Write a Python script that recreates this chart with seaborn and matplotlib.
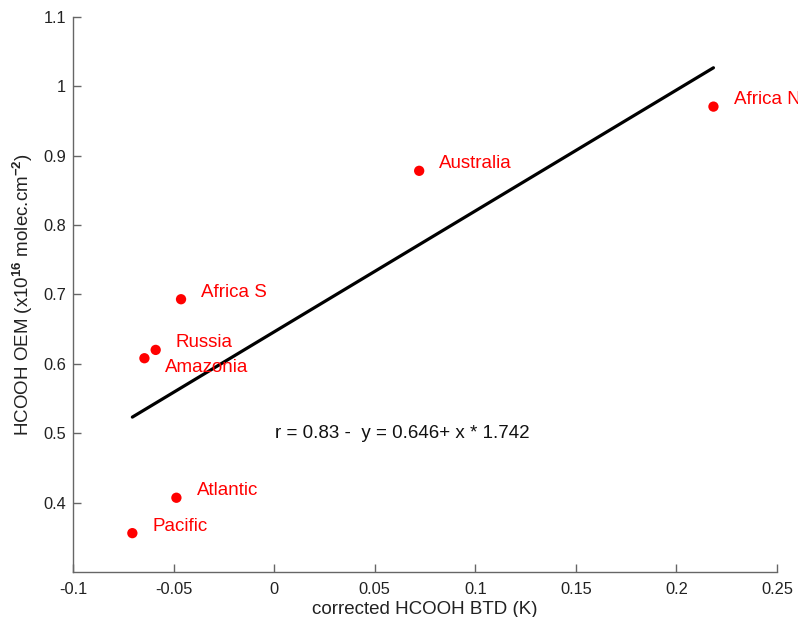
import matplotlib
matplotlib.use("Agg")
import matplotlib.pyplot as plt
import seaborn as sns
import numpy as np
import pandas as pd

regions = ["Pacific", "Atlantic", "Amazonia", "Russia", "Africa S", "Australia", "Africa N"]
btd = [-0.0705, -0.0486, -0.0645, -0.0589, -0.0463, 0.0721, 0.2184]
oem = [0.356, 0.407, 0.608, 0.620, 0.693, 0.878, 0.9705]
intercept = 0.646
slope = 1.742
r_value = 0.83

x_ticks = [-0.1, -0.05, 0, 0.05, 0.1, 0.15, 0.2, 0.25]
x_tick_labels = ["-0.1", "-0.05", "0", "0.05", "0.1", "0.15", "0.2", "0.25"]
y_ticks = [0.4, 0.5, 0.6, 0.7, 0.8, 0.9, 1.0, 1.1]
y_tick_labels = ["0.4", "0.5", "0.6", "0.7", "0.8", "0.9", "1", "1.1"]

df = pd.DataFrame({"region": regions, "btd": btd, "oem": oem})
fit_x = np.array([min(btd), max(btd)])
fit_df = pd.DataFrame({"x": fit_x, "y": intercept + slope * fit_x})

sns.set_style("ticks")
plt.rcParams["font.family"] = ["Liberation Sans", "DejaVu Sans"]
plt.rcParams["mathtext.fontset"] = "custom"
plt.rcParams["mathtext.rm"] = "Liberation Sans"
plt.rcParams["mathtext.it"] = "Liberation Sans:italic"
plt.rcParams["mathtext.bf"] = "Liberation Sans:bold"

fig = plt.figure(figsize=(7.98, 6.17), dpi=100)
ax = fig.add_axes([0.0915, 0.0729, 0.8822, 0.9])

sns.lineplot(data=fit_df, x="x", y="y", color="black", linewidth=2.3, ax=ax)
sns.scatterplot(data=df, x="btd", y="oem", color="#ff0000", s=55, edgecolor="none", ax=ax, zorder=3)

offsets = {"Amazonia": (15, -6.5)}
for reg, xv, yv in zip(regions, btd, oem):
    dx, dy = offsets.get(reg, (14.5, 5))
    ax.annotate(reg, (xv, yv), xytext=(dx, dy), textcoords="offset points",
                color="#ff0000", fontsize=13.5, ha="left", va="center")

ax.text(0.0004, 0.5, f"r = {r_value:.2f} -  y = {intercept:.3f}+ x * {slope:.3f}",
        fontsize=13.5, ha="left", va="center", color="#111111")

ax.set_xlim(-0.1, 0.25)
ax.set_ylim(0.3, 1.1)
ax.set_xticks(x_ticks)
ax.set_xticklabels(x_tick_labels)
ax.set_yticks(y_ticks)
ax.set_yticklabels(y_tick_labels)
ax.tick_params(direction="in", length=6, width=1, colors="#666666", labelcolor="#222222",
               labelsize=11.8)
ax.tick_params(axis="x", pad=7)
ax.tick_params(axis="y", pad=5)
for side in ["left", "bottom"]:
    ax.spines[side].set_color("#666666")
    ax.spines[side].set_linewidth(1)
sns.despine(ax=ax)

ax.set_xlabel("corrected HCOOH BTD (K)", fontsize=13.5, color="#222222", labelpad=3)
ax.set_ylabel(r"HCOOH OEM (x10$^{\mathbf{16}}$ molec.cm$^{\mathbf{-2}}$)", fontsize=13.5,
              color="#222222", labelpad=6)

fig.savefig("out.png", dpi=100)
